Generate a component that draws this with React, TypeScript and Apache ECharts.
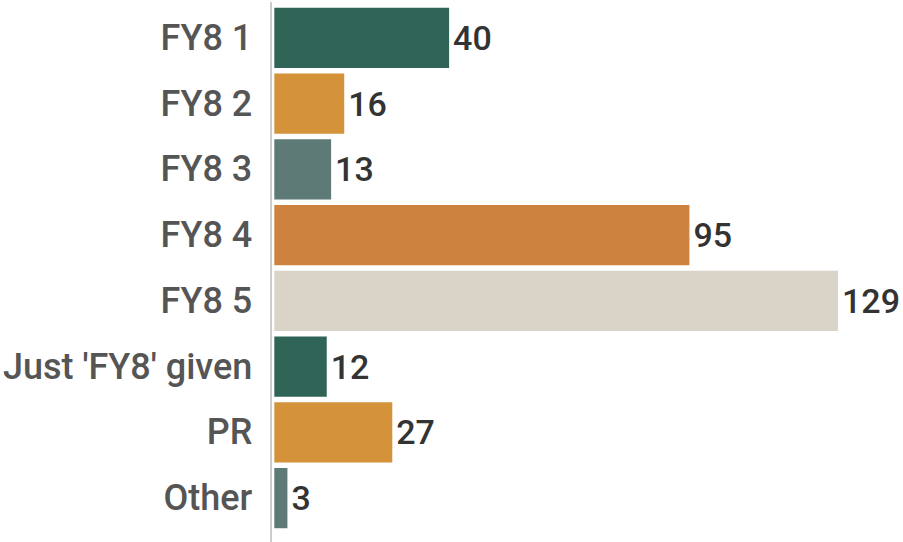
import React, { useEffect, useRef } from "react";
import * as echarts from "echarts";

const categories = ["FY8 1", "FY8 2", "FY8 3", "FY8 4", "FY8 5", "Just 'FY8' given", "PR", "Other"];
const values = [40, 16, 13, 95, 129, 12, 27, 3];
const colors = ["#2f6457", "#d4933b", "#5d7a77", "#cd833f", "#d9d3c8", "#2f6457", "#d4933b", "#5d7a77"];

export default function App() {
  const ref = useRef<HTMLDivElement>(null);
  useEffect(() => {
    const chart = echarts.init(ref.current!, null, { renderer: "svg" });
    chart.setOption({
      animation: false,
      grid: { left: 272, right: 65, top: 5, bottom: 11, containLabel: false },
      xAxis: {
        type: "value",
        min: 0,
        max: 129,
        show: false,
      },
      yAxis: {
        type: "category",
        inverse: true,
        data: categories,
        axisLine: { show: false },
        axisTick: { show: false },
        axisLabel: {
          margin: 22,
          fontFamily: "Roboto",
          fontSize: 36,
          fontWeight: 500,
          color: "#555555",
        },
      },
      graphic: [
        {
          type: "line",
          shape: { x1: 271, y1: 2, x2: 271, y2: 542 },
          style: { stroke: "#cccccc", lineWidth: 2 },
          z: -1,
        },
      ],
      series: [
        {
          type: "bar",
          data: values.map((v, i) => ({ value: v, itemStyle: { color: colors[i] } })),
          barCategoryGap: "8.4%",
          label: {
            show: true,
            position: "right",
            distance: 4,
            fontFamily: "Roboto",
            fontSize: 34,
            fontWeight: 500,
            color: "#333333",
          },
        },
      ],
    });
    return () => chart.dispose();
  }, []);
  return <div ref={ref} style={{ width: 903, height: 542, position: "absolute", left: 0, top: 0 }} />;
}
